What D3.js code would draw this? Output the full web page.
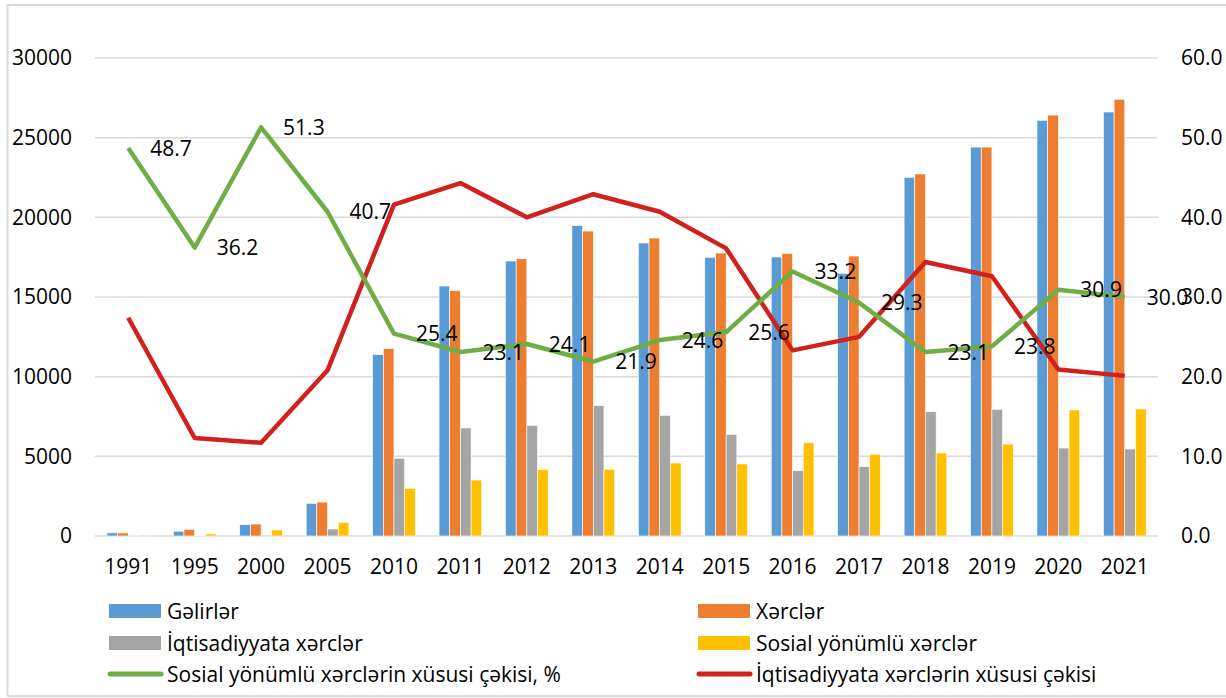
<!DOCTYPE html>
<html>
<head>
<meta charset="utf-8">
<script src="https://cdn.jsdelivr.net/npm/d3@7"></script>
<style>
  body { margin: 0; background: #fff; }
  text { font-family: "Open Sans", Lato, sans-serif; fill: #000; }
</style>
</head>
<body>
<svg id="chart" width="1226" height="698"></svg>
<script>
const years = ["1991","1995","2000","2005","2010","2011","2012","2013","2014","2015","2016","2017","2018","2019","2020","2021"];

const gelirler   = [200, 300, 710, 2050, 11380, 15690, 17260, 19480, 18390, 17490, 17510, 16490, 22510, 24410, 26090, 26610];
const xercler    = [190, 420, 750, 2130, 11760, 15400, 17400, 19140, 18700, 17760, 17740, 17570, 22720, 24410, 26420, 27410];
const iqtisadi   = [50, 20, 60, 440, 4880, 6780, 6950, 8180, 7570, 6380, 4100, 4350, 7800, 7950, 5520, 5460];
const sosial     = [60, 130, 380, 860, 2990, 3510, 4160, 4190, 4580, 4520, 5860, 5130, 5210, 5770, 7910, 7970];

const sosialPay  = [48.7, 36.2, 51.3, 40.7, 25.4, 23.1, 24.1, 21.9, 24.6, 25.6, 33.2, 29.3, 23.1, 23.8, 30.9, 30.0];
const iqtisadiPay = [27.4, 12.3, 11.7, 20.8, 41.6, 44.3, 40.0, 42.9, 40.7, 36.1, 23.3, 25.0, 34.4, 32.6, 20.9, 20.1];

const leftTicks = [0, 5000, 10000, 15000, 20000, 25000, 30000];
const rightTicks = [0, 10, 20, 30, 40, 50, 60];

const barSeries = [
  { name: "Gəlirlər", values: gelirler, color: "#5B9BD5" },
  { name: "Xərclər", values: xercler, color: "#ED7D31" },
  { name: "İqtisadiyyata xərclər", values: iqtisadi, color: "#A5A5A5" },
  { name: "Sosial yönümlü xərclər", values: sosial, color: "#FFC000" }
];
const lineSeries = [
  { name: "Sosial yönümlü xərclərin xüsusi çəkisi, %", values: sosialPay, color: "#70AD47" },
  { name: "İqtisadiyyata xərclərin xüsusi çəkisi", values: iqtisadiPay, color: "#D0211C" }
];

const margin = { top: 58, right: 68, bottom: 162, left: 95 },
    width = 1226,
    height = 698,
    fontSize = 21;

const svg = d3.select("#chart");

// outer frame
svg.append("rect")
    .attr("x", 7.5).attr("y", 5)
    .attr("width", 1240).attr("height", 691)
    .attr("fill", "none")
    .attr("stroke", "#d9d9d9")
    .attr("stroke-width", 2);

const x = d3.scaleBand()
    .domain(years)
    .range([margin.left, width - margin.right])
    .padding(0);

const groupW = x.bandwidth() * 0.643;
const xSub = d3.scaleBand()
    .domain(barSeries.map(d => d.name))
    .range([-groupW / 2, groupW / 2]);

const yL = d3.scaleLinear()
    .domain([0, 30000])
    .range([height - margin.bottom, margin.top]);

const yR = d3.scaleLinear()
    .domain([0, 60])
    .range([height - margin.bottom, margin.top]);

// grid
svg.append("g")
    .selectAll("line")
    .data(leftTicks)
    .join("line")
    .attr("x1", margin.left)
    .attr("x2", width - margin.right)
    .attr("y1", d => yL(d))
    .attr("y2", d => yL(d))
    .attr("stroke", "#d9d9d9")
    .attr("stroke-width", 1.5);

// axes
svg.append("g")
    .attr("transform", `translate(${margin.left - 23},0)`)
    .call(d3.axisLeft(yL).tickValues(leftTicks).tickSize(0).tickPadding(0).tickFormat(d3.format("d")))
    .call(g => g.select(".domain").remove())
    .call(g => g.selectAll("text").attr("font-size", fontSize).style("font-family", "'Open Sans', sans-serif"));

svg.append("g")
    .attr("transform", `translate(${width - margin.right + 23},0)`)
    .call(d3.axisRight(yR).tickValues(rightTicks).tickSize(0).tickPadding(0).tickFormat(d3.format(".1f")))
    .call(g => g.select(".domain").remove())
    .call(g => g.selectAll("text").attr("font-size", fontSize).style("font-family", "'Open Sans', sans-serif"));

svg.append("g")
    .attr("transform", `translate(0,${height - margin.bottom + 20})`)
    .call(d3.axisBottom(x).tickSize(0).tickPadding(0))
    .call(g => g.select(".domain").remove())
    .call(g => g.selectAll("text").attr("font-size", fontSize).attr("dy", "0.85em").style("font-family", "'Open Sans', sans-serif"));

// bars
barSeries.forEach(s => {
    svg.append("g")
        .selectAll("rect")
        .data(years.map((yr, i) => ({ yr, v: s.values[i] })))
        .join("rect")
        .attr("x", d => x(d.yr) + x.bandwidth() / 2 + xSub(s.name))
        .attr("width", xSub.bandwidth())
        .attr("y", d => yL(d.v))
        .attr("height", d => yL(0) - yL(d.v))
        .attr("fill", s.color)
        .attr("stroke", "#fff")
        .attr("stroke-width", 0.6);
});

// lines
const line = d3.line()
    .x((d, i) => x(years[i]) + x.bandwidth() / 2)
    .y(d => yR(d));

lineSeries.slice().reverse().forEach(s => {
    svg.append("path")
        .datum(s.values)
        .attr("fill", "none")
        .attr("stroke", s.color)
        .attr("stroke-width", 4.5)
        .attr("stroke-linejoin", "round")
        .attr("d", line);
});

// data labels on green line
svg.append("g")
    .selectAll("text")
    .data(sosialPay)
    .join("text")
    .attr("x", (d, i) => x(years[i]) + x.bandwidth() / 2 + 22)
    .attr("y", d => yR(d))
    .attr("dy", "0.36em")
    .attr("font-size", fontSize)
    .text(d => d3.format(".1f")(d));

// legend
const legendItems = [
    { s: barSeries[0], type: "bar", col: 0, row: 0 },
    { s: barSeries[1], type: "bar", col: 1, row: 0 },
    { s: barSeries[2], type: "bar", col: 0, row: 1 },
    { s: barSeries[3], type: "bar", col: 1, row: 1 },
    { s: lineSeries[0], type: "line", col: 0, row: 2 },
    { s: lineSeries[1], type: "line", col: 1, row: 2 }
];
const colX = [108, 697], rowY = [611, 643, 674];

const lg = svg.append("g")
    .selectAll("g")
    .data(legendItems)
    .join("g")
    .attr("transform", d => `translate(${colX[d.col]},${rowY[d.row]})`);

lg.filter(d => d.type === "bar")
    .append("rect")
    .attr("x", 1).attr("y", -7)
    .attr("width", 52).attr("height", 14)
    .attr("fill", d => d.s.color);

lg.filter(d => d.type === "line")
    .append("line")
    .attr("x1", 2).attr("x2", 53)
    .attr("stroke", d => d.s.color)
    .attr("stroke-width", 5)
    .attr("stroke-linecap", "round");

lg.append("text")
    .attr("x", 59)
    .attr("dy", "0.36em")
    .attr("font-size", fontSize)
    .text(d => d.s.name);
</script>
</body>
</html>
